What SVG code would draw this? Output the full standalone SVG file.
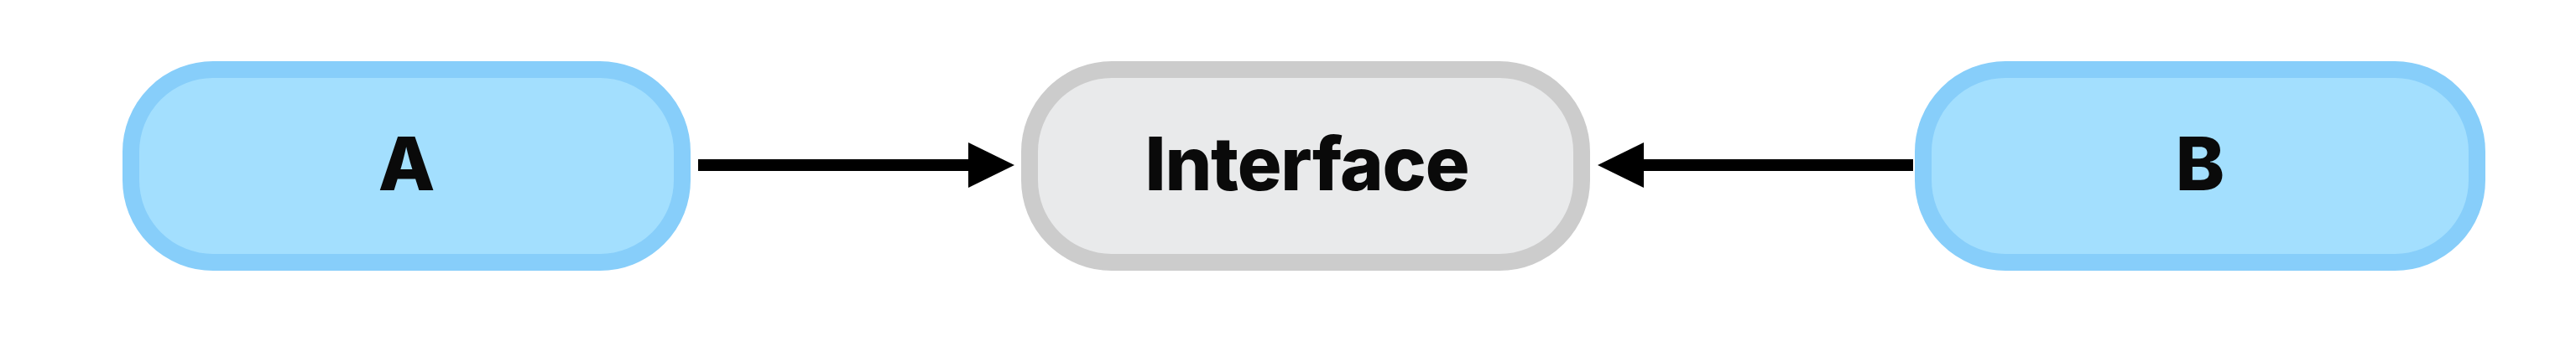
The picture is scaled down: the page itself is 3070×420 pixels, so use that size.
<svg xmlns="http://www.w3.org/2000/svg" width="3070" height="420" viewBox="0 0 3070 420">
  <style>
    .blue { fill: #a3dffe; stroke: #87cefa; stroke-width: 20; }
    .grey { fill: #e9eaeb; stroke: #cccccc; stroke-width: 20; }
    .label { font-family: "Inter", "Liberation Sans", sans-serif; font-weight: 800; font-size: 88px; fill: #0a0a0a; text-anchor: middle; }
    .edge { stroke: #000000; stroke-width: 14; fill: none; marker-end: url(#arrow); }
  </style>
  <defs>
    <marker id="arrow" markerUnits="userSpaceOnUse" markerWidth="56" markerHeight="56" viewBox="0 0 56 56" refX="2" refY="28" orient="auto">
      <path d="M0,1 L55,28 L0,55 z" fill="#000000"/>
    </marker>
  </defs>
  <rect width="3070" height="420" fill="#ffffff"/>
  <g id="connectors">
    <path class="edge" d="M832,197 L1156,197"/>
    <path class="edge" d="M2280,197 L1957,197"/>
  </g>
  <g id="node-A">
    <rect class="blue" x="156" y="83" width="657" height="230" rx="98" ry="98"/>
    <text class="label" x="484.5" y="227">A</text>
  </g>
  <g id="node-Interface">
    <rect class="grey" x="1227" y="83" width="658" height="230" rx="98" ry="98"/>
    <text class="label" x="1558" y="227" textLength="387" lengthAdjust="spacing">Interface</text>
  </g>
  <g id="node-B">
    <rect class="blue" x="2292" y="83" width="660" height="230" rx="98" ry="98"/>
    <text class="label" x="2622" y="227">B</text>
  </g>
</svg>
